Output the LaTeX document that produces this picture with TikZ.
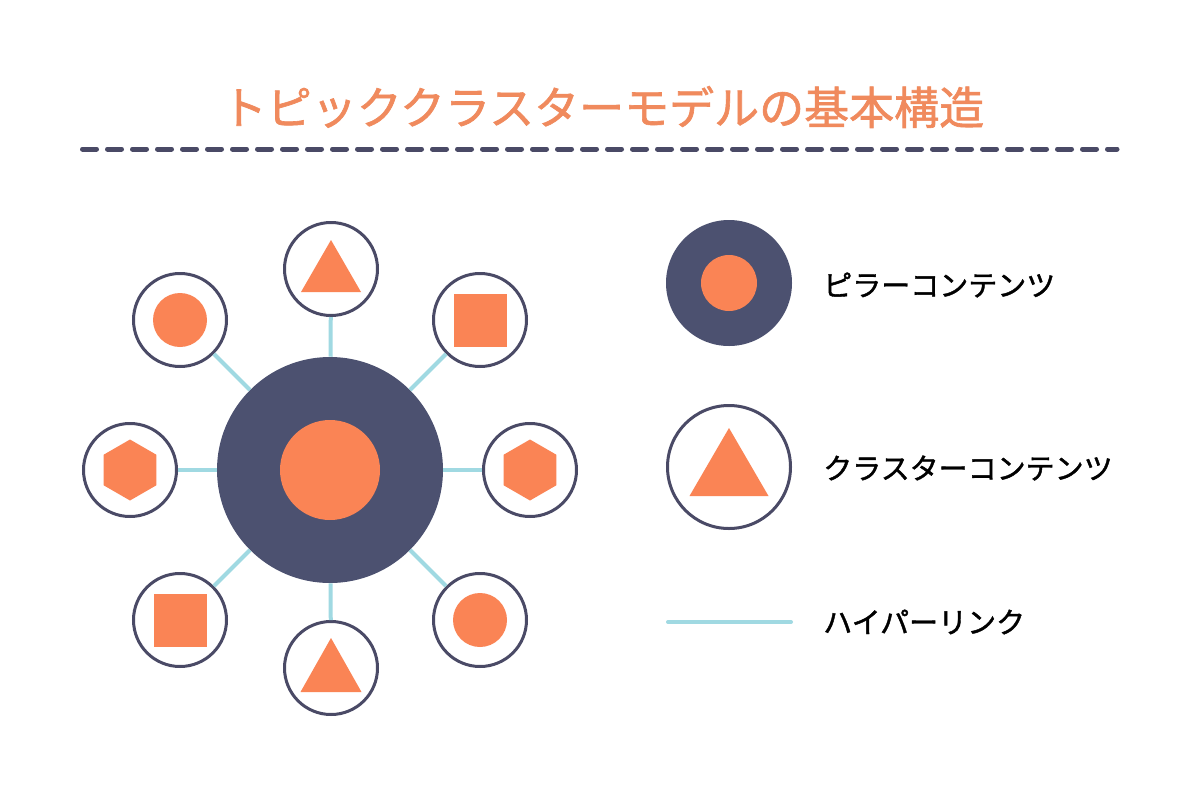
\documentclass[tikz,border=0pt]{standalone}
\usepackage{fontspec}
\setmainfont{Noto Sans CJK JP}
\newfontfamily\jpsemi[FakeBold=1.4]{Noto Sans CJK JP}
\usetikzlibrary{calc}
\definecolor{navy}{HTML}{4C5170}
\definecolor{ringc}{HTML}{4A4A66}
\definecolor{orng}{HTML}{FA8455}
\definecolor{titlec}{HTML}{F08A5D}
\definecolor{linkc}{HTML}{A0D9E2}
\begin{document}
\begin{tikzpicture}[x=0.75pt,y=-0.75pt,
  sat/.style={circle,draw=ringc,line width=2.25pt,fill=white,minimum size=69.75pt,inner sep=0pt},
  pillar/.style={circle,fill=navy,minimum size=169.5pt,inner sep=0pt},
  core/.style={circle,fill=orng,inner sep=0pt},
  link/.style={draw=linkc,line width=3pt},
  shp/.style={fill=orng},
  lbl/.style={anchor=west,font=\jpsemi\fontsize{21.75pt}{26pt}\selectfont,text=black,inner sep=0pt}]
\useasboundingbox[fill=white] (0,0) rectangle (1200,800);
% title
\node[font=\jpsemi\fontsize{33.75pt}{40pt}\selectfont,text=titlec,inner sep=0pt] (title) at (603,107) {トピッククラスターモデルの基本構造};
\coordinate (dl) at (82.5,149);
\coordinate (dr) at (1117,149);
\draw[ringc,line width=3.75pt,line cap=round,dash pattern=on 10.5pt off 8.25pt] (dl) -- (dr);
% pillar
\node[pillar] (p) at (330,470) {};
\node[core,minimum size=75pt] (pc) at (p) {};
% satellites
\node[sat] (s1) at (331,269) {};
\node[sat] (s2) at (480,320) {};
\node[sat] (s3) at (530,470) {};
\node[sat] (s4) at (480,620) {};
\node[sat] (s5) at (331,668) {};
\node[sat] (s6) at (180,620) {};
\node[sat] (s7) at (130,470) {};
\node[sat] (s8) at (180,320) {};
% links
\foreach \s in {s1,s2,s3,s4,s5,s6,s7,s8} \draw[link] (p) -- (\s);
% inner shapes
\fill[shp] ($(s1)+(0,-29)$) -- ($(s1)+(30,23)$) -- ($(s1)+(-30,23)$) -- cycle;
\fill[shp] ($(s2)+(-26.5,-26.5)$) rectangle ++(53,53);
\fill[shp] ($(s3)+(90:30.5)$) -- ($(s3)+(150:30.5)$) -- ($(s3)+(210:30.5)$) -- ($(s3)+(270:30.5)$) -- ($(s3)+(330:30.5)$) -- ($(s3)+(30:30.5)$) -- cycle;
\fill[shp] (s4.center) circle (27);
\fill[shp] ($(s5)+(0,-30)$) -- ($(s5)+(30.5,24)$) -- ($(s5)+(-30.5,24)$) -- cycle;
\fill[shp] ($(s6)+(-26.5,-26.5)$) rectangle ++(53,53);
\fill[shp] ($(s7)+(90:30.5)$) -- ($(s7)+(150:30.5)$) -- ($(s7)+(210:30.5)$) -- ($(s7)+(270:30.5)$) -- ($(s7)+(330:30.5)$) -- ($(s7)+(30:30.5)$) -- cycle;
\fill[shp] (s8.center) circle (27);
% legend
\node[pillar,minimum size=94.5pt] (lp) at (729,283) {};
\node[core,minimum size=42pt] (lpc) at (lp) {};
\node[sat,minimum size=92.25pt] (lc) at (729,467) {};
\fill[shp] ($(lc)+(0,-39)$) -- ($(lc)+(39.5,29)$) -- ($(lc)+(-39.5,29)$) -- cycle;
\coordinate (ll1) at (668,622);
\coordinate (ll2) at (791,622);
\draw[link,line cap=round] (ll1) -- (ll2);
\node[lbl] (t1) at (823,285) {ピラーコンテンツ};
\node[lbl] (t2) at (823,468) {クラスターコンテンツ};
\node[lbl] (t3) at (823,622) {ハイパーリンク};
\end{tikzpicture}
\end{document}
